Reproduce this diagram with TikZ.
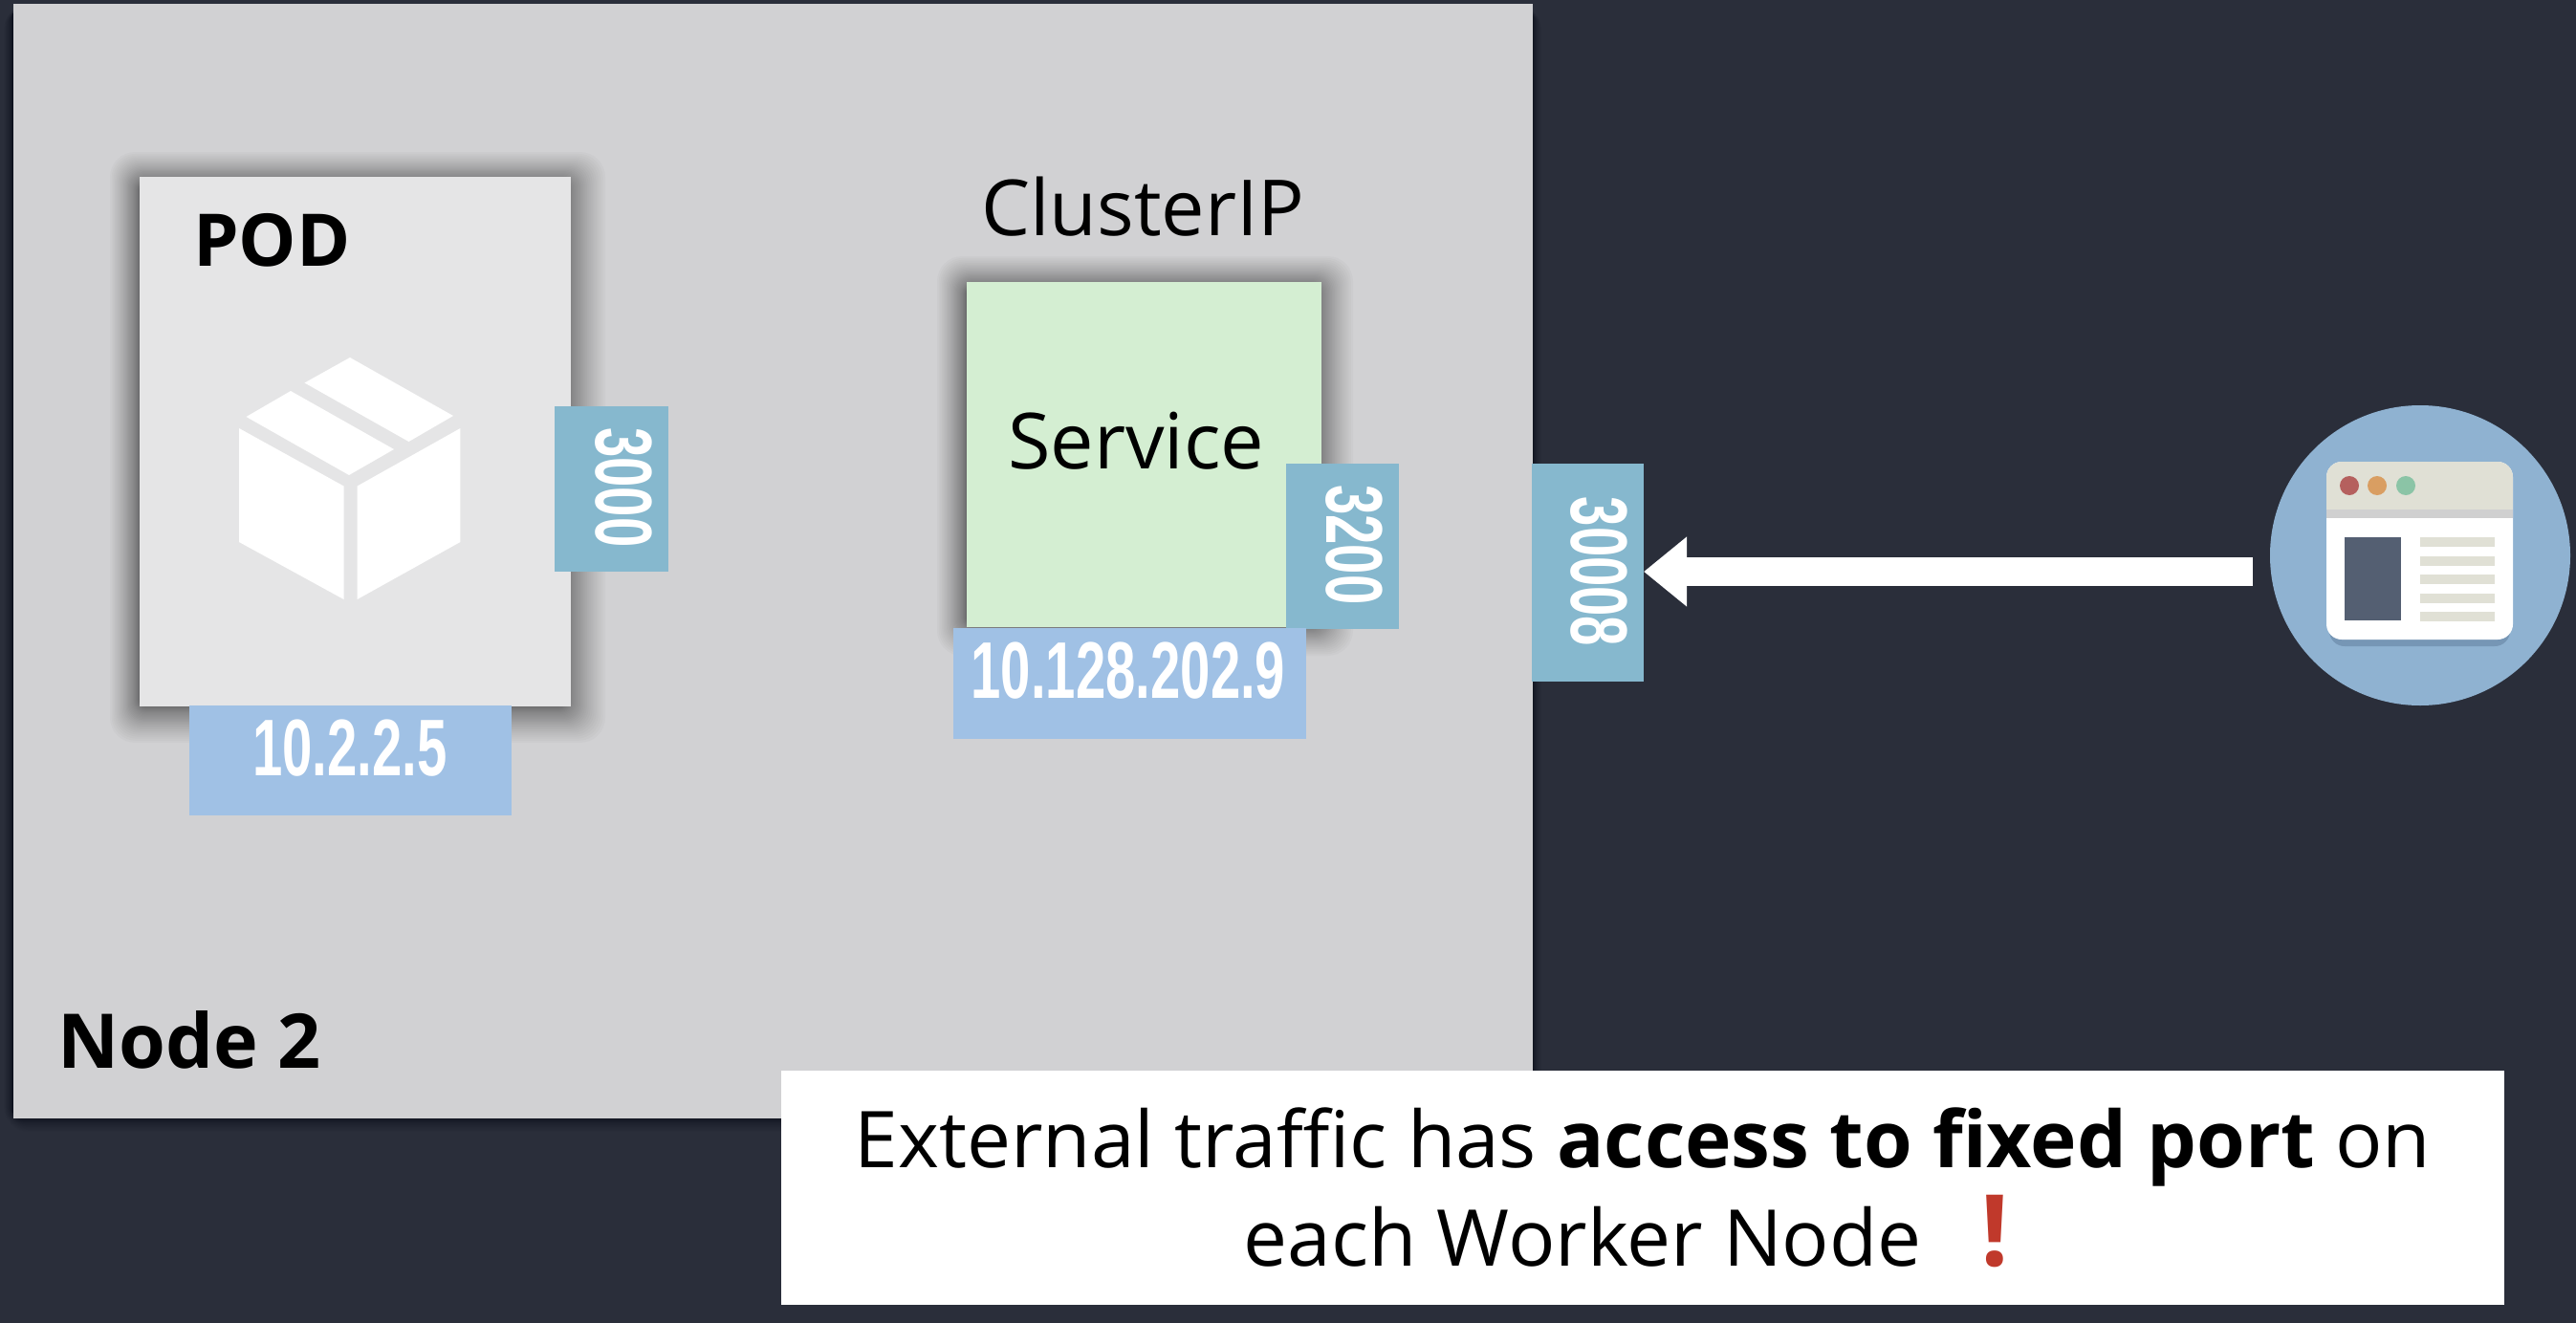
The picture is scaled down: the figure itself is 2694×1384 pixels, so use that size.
\documentclass[tikz,border=0pt]{standalone}
\usepackage{fontspec}
\setmainfont{Open Sans}
\newfontfamily\condfont[FakeStretch=0.67]{Liberation Sans}
\usetikzlibrary{arrows.meta}
\definecolor{bgc}{HTML}{2A2E3A}
\definecolor{nodec}{HTML}{D1D1D3}
\definecolor{podc}{HTML}{E5E5E6}
\definecolor{svcc}{HTML}{D4EED2}
\definecolor{portc}{HTML}{86B8CE}
\definecolor{ipc}{HTML}{A0C1E5}
\definecolor{webc}{HTML}{8FB2D1}
\definecolor{barc}{HTML}{E0E0D5}
\definecolor{stripc}{HTML}{D0D0D0}
\definecolor{slatec}{HTML}{545F72}
\definecolor{winshadow}{HTML}{7696B5}
\definecolor{dotred}{HTML}{B5605E}
\definecolor{dotorange}{HTML}{D99E62}
\definecolor{dotgreen}{HTML}{8BC4A6}
\definecolor{bangred}{HTML}{C0392B}
% x1,y1,x2,y2, reach left,top,right,bottom, opacity per layer
\newcommand{\softshadow}[9]{%
  \foreach \i in {1,...,36}{
    \pgfmathsetmacro{\e}{\i*\i/1296}
    \pgfmathsetmacro{\rad}{1+\i*0.7}
    \fill[black,opacity=#9,rounded corners=\rad pt]
      ({#1-#5*\e},{#2-#6*\e}) rectangle ({#3+#7*\e},{#4+#8*\e});
  }}
\tikzset{
  plainbox/.style={rectangle,inner sep=0pt,outer sep=0pt},
  portbox/.style={plainbox,fill=portc},
  ipbox/.style={plainbox,fill=ipc},
  numtext/.style={inner sep=0pt,text=white,font=\condfont\bfseries\fontsize{84}{84}\selectfont},
  labeltext/.style={inner sep=0pt,anchor=base west,text=black,font=\fontsize{81}{81}\selectfont},
  boldtext/.style={inner sep=0pt,anchor=base west,text=black,font=\bfseries\fontsize{79}{79}\selectfont},
  boxface/.style={fill=white},
}
\begin{document}
\begin{tikzpicture}[x=1pt,y=-1pt]
\useasboundingbox (0,0) rectangle (2694,1384);
\fill[bgc] (0,0) rectangle (2694,1384);
% Node 2
\softshadow{14}{9}{1602}{1168}{10}{4}{10}{16}{0.012}
\node[plainbox,fill=nodec,minimum width=1589pt,minimum height=1166pt] (node2) at (808,587) {};
\node[boldtext] (node2label) at (60,1117) {Node 2};
% POD
\softshadow{147}{193}{589}{737}{32}{34}{44}{40}{0.019}
\node[plainbox,fill=podc,minimum width=451pt,minimum height=554pt] (pod) at (371,462) {};
\node[boldtext,font=\bfseries\fontsize{76}{76}\selectfont] (podlabel) at (202,278) {POD};
\fill[boxface] (366,374) -- (474,435) -- (427.5,462) -- (318.5,400.5) -- cycle;
\fill[boxface] (304,409) -- (412,470) -- (365,497) -- (257.5,436) -- cycle;
\fill[boxface] (250,448) -- (359.5,508.5) -- (359.5,627) -- (250,567) -- cycle;
\fill[boxface] (373.6,508.5) -- (481.4,448) -- (481.4,567) -- (373.6,627) -- cycle;
\node[portbox,minimum width=119pt,minimum height=173pt] (p3000) at (639.5,511.5) {};
\node[numtext,rotate=-90] (t3000) at (652,510) {3000};
\node[ipbox,minimum width=336.5pt,minimum height=115.5pt] (ippod) at (366.25,795.25) {};
\node[numtext] (tippod) at (366,783) {10.2.2.5};
% Service
\node[labeltext] (clusterlabel) at (1026,246) {ClusterIP};
\softshadow{1012}{302}{1375}{652}{32}{34}{40}{34}{0.019}
\node[plainbox,fill=svcc,minimum width=371pt,minimum height=361pt] (svc) at (1196.5,475.5) {};
\node[labeltext] (svclabel) at (1054,490) {Service};
\node[portbox,minimum width=117.5pt,minimum height=173pt] (p3200) at (1403.75,571.5) {};
\node[numtext,rotate=-90] (t3200) at (1416,570) {3200};
\node[ipbox,minimum width=369pt,minimum height=116pt] (ipsvc) at (1181.5,715) {};
\node[numtext] (tipsvc) at (1180,702) {10.128.202.9};
% NodePort
\node[portbox,minimum width=117pt,minimum height=228pt] (p30008) at (1660.5,599) {};
\node[numtext,rotate=-90] (t30008) at (1672,598) {30008};
% Browser
\node[circle,fill=webc,inner sep=0pt,outer sep=0pt,minimum size=314pt] (web) at (2531,581) {};
\coordinate (arrowstart) at (2356,598);
\draw[white,line width=30pt,-{Triangle[length=45pt,width=70pt]}] (arrowstart) -- (p30008.east |- arrowstart);
\fill[winshadow,rounded corners=16pt] (2436,489) rectangle (2625,676);
\fill[white,rounded corners=16pt] (2433,483) rectangle (2628,669);
\begin{scope}
  \clip[rounded corners=16pt] (2433,483) rectangle (2628,669);
  \fill[barc] (2433,483) rectangle (2628,533);
  \fill[stripc] (2433,533) rectangle (2628,542);
\end{scope}
\fill[dotred] (2457,508) circle (10);
\fill[dotorange] (2486,508) circle (10);
\fill[dotgreen] (2516,508) circle (10);
\fill[slatec] (2452,562) rectangle (2511,649);
\foreach \a in {562,581.5,601,621,640}{
  \fill[barc] (2531,\a) rectangle (2609,\a+10);
}
% Caption
\node[plainbox,fill=white,minimum width=1802pt,minimum height=245pt,align=center,
  font=\fontsize{82}{103}\selectfont,text=black] (caption) at (1718,1242.5)
  {External traffic has \textbf{access to fixed port} on\\
   each Worker Node\hspace{62pt}\textcolor{bangred}{\textbf{\fontsize{104}{103}\selectfont !}}\rule{34pt}{0pt}};
\end{tikzpicture}
\end{document}
